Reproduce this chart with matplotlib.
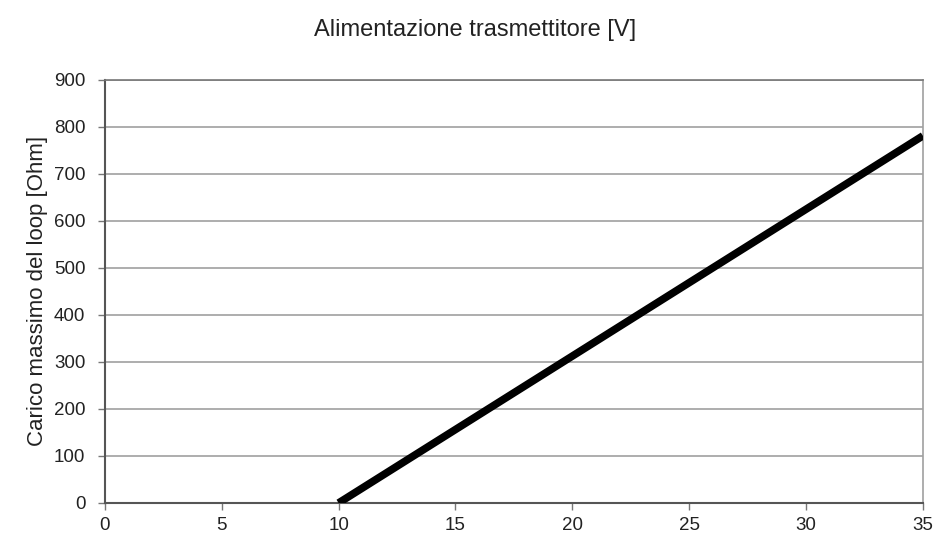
import matplotlib.pyplot as plt

# Data
volts = [10, 35]
ohms = [0, 781]
x_ticks = [0, 5, 10, 15, 20, 25, 30, 35]
y_ticks = [0, 100, 200, 300, 400, 500, 600, 700, 800, 900]

plt.rcParams['font.family'] = ['Liberation Sans', 'DejaVu Sans']

fig = plt.figure(figsize=(9.36, 5.36), dpi=100)
ax = fig.add_axes([0.112, 0.0616, 0.874, 0.7894])

ax.plot(volts, ohms, color='black', linewidth=5.5, solid_capstyle='butt', zorder=3)

ax.set_xlim(0, 35)
ax.set_ylim(0, 900)
ax.set_xticks(x_ticks)
ax.set_yticks(y_ticks)
ax.grid(axis='y', color='#a0a0a0', linewidth=1.2)
ax.set_axisbelow(True)

for side in ['left', 'bottom']:
    ax.spines[side].set_color('#555555')
    ax.spines[side].set_linewidth(1.5)
ax.spines['right'].set_color('#a0a0a0')
ax.spines['right'].set_linewidth(1.2)
ax.spines['top'].set_color('#777777')
ax.spines['top'].set_linewidth(1.2)

ax.tick_params(axis='both', direction='out', length=5, width=1, color='#777777',
               labelsize=13.5, labelcolor='#222222')
ax.tick_params(axis='x', pad=5)
ax.tick_params(axis='y', pad=9)

ax.set_ylabel('Carico massimo del loop [Ohm]', fontsize=16, color='#222222', labelpad=4)
fig.text(0.508, 0.944, 'Alimentazione trasmettitore [V]', ha='center', va='center',
         fontsize=17, color='#222222')

plt.savefig('out.png', dpi=100)
plt.close()
